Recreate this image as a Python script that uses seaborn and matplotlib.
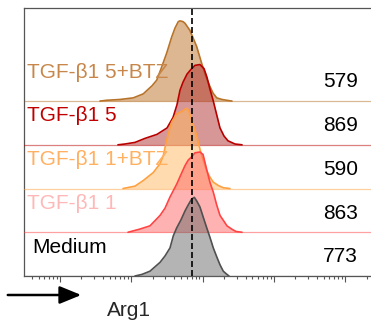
import numpy as np
import pandas as pd
import seaborn as sns
import matplotlib.pyplot as plt

# ---------------------------------------------------------------
# Data (x = log10 Arg1 intensity, y = % of mode)
# ---------------------------------------------------------------
samples = ["TGF-β1 5+BTZ", "TGF-β1 5", "TGF-β1 1+BTZ", "TGF-β1 1", "Medium"]
mfi = [579, 869, 590, 863, 773]

x_5btz = [1.561, 1.655, 1.842, 2.028, 2.168, 2.216, 2.290, 2.356, 2.416, 2.497, 2.567,
          2.613, 2.659, 2.683, 2.725, 2.753, 2.823, 2.865, 2.917, 2.987, 3.048, 3.104,
          3.146, 3.198, 3.272, 3.338, 3.412]
y_5btz = [0, 1, 2, 4, 9, 13, 19, 26, 40, 60, 80, 91, 99, 100, 99, 97, 88, 79, 68, 47,
          30, 18, 10, 4, 2, 1, 0]

x_5 = [1.813, 1.912, 2.052, 2.192, 2.360, 2.501, 2.585, 2.641, 2.683, 2.725, 2.781,
       2.837, 2.893, 2.963, 3.020, 3.062, 3.104, 3.146, 3.188, 3.244, 3.300, 3.356,
       3.454, 3.553]
y_5 = [0, 1, 3, 8, 13, 21, 34, 50, 68, 78, 88, 94, 99, 100, 95, 84, 69, 56, 41, 21,
       11, 5, 1, 0]

x_1btz = [1.884, 2.052, 2.168, 2.309, 2.403, 2.449, 2.497, 2.567, 2.637, 2.683, 2.729,
          2.753, 2.785, 2.809, 2.847, 2.917, 2.963, 3.006, 3.058, 3.104, 3.150, 3.216,
          3.290, 3.384]
y_1btz = [0, 3, 10, 20, 31, 41, 61, 83, 93, 95, 97, 99, 100, 96, 86, 66, 49, 36, 22,
          14, 8, 4, 1, 0]

x_1 = [1.954, 2.122, 2.262, 2.403, 2.473, 2.543, 2.637, 2.697, 2.753, 2.799, 2.847,
       2.893, 2.963, 3.006, 3.058, 3.104, 3.150, 3.198, 3.244, 3.290, 3.342, 3.408,
       3.468, 3.553]
y_1 = [0, 4, 8, 21, 30, 44, 60, 72, 83, 90, 94, 99, 100, 97, 78, 62, 50, 34, 21, 15,
       8, 4, 1, 0]

x_med = [2.052, 2.150, 2.262, 2.403, 2.473, 2.543, 2.589, 2.637, 2.697, 2.753, 2.795,
         2.847, 2.884, 2.921, 2.963, 3.010, 3.058, 3.104, 3.150, 3.198, 3.244, 3.290,
         3.328, 3.370]
y_med = [0, 2, 6, 17, 25, 35, 50, 60, 70, 81, 88, 96, 98, 93, 86, 73, 60, 48, 35, 24,
         14, 6, 3, 0]

curves_x = [x_5btz, x_5, x_1btz, x_1, x_med]
curves_y = [y_5btz, y_5, y_1btz, y_1, y_med]

ref_log = 2.851  # dashed reference line

# styles
line_colors = ["#b8732a", "#b80000", "#ffa040", "#ff4444", "#505050"]
fill_colors = ["#bb7126", "#b03030", "#ffb961", "#ff6767", "#6a6a6a"]
text_colors = ["#c8874a", "#c00000", "#ffb060", "#ffb8b8", "#000000"]
label_dx = [0.009, 0.009, 0.009, 0.009, 0.025]
OFFSET = 54.5

sns.set_style("ticks")
plt.rcParams["font.family"] = ["Liberation Sans", "DejaVu Sans"]

fig = plt.figure(figsize=(3.71, 3.22), dpi=100)
ax = fig.add_axes([24 / 371, 46 / 322, 347 / 371, 268 / 322])
ax.set_xscale("log")

n = len(samples)
for i, (name, xs, ys) in enumerate(zip(samples, curves_x, curves_y)):
    base = OFFSET * (n - 1 - i)
    df = pd.DataFrame({"x": 10 ** np.array(xs), "y": np.array(ys) + base})
    z = 2 + i
    ax.axhline(base, color=line_colors[i], lw=0.9, alpha=0.5, zorder=z)
    ax.fill_between(df["x"], base, df["y"], color=fill_colors[i], alpha=0.5,
                    lw=0, zorder=z)
    sns.lineplot(data=df, x="x", y="y", color=line_colors[i], lw=1.2,
                 sort=False, estimator=None, ax=ax, zorder=z)
    ax.text(label_dx[i], 0, name, transform=ax.get_yaxis_transform(),
            fontsize=15, color=text_colors[i], va="center", ha="left",
            zorder=10)
    ax.texts[-1].set_position((label_dx[i], base + 36))
    ax.text(0.963, base + 24, str(mfi[i]), transform=ax.get_yaxis_transform(),
            fontsize=15, color="black", va="center", ha="right", zorder=10)

ax.axvline(10 ** ref_log, color="black", lw=1.2, ls=(0, (3.6, 1.8)), zorder=20)

ax.set_xlim(10 ** 0.495, 10 ** 5.362)
ax.set_ylim(0, 334)
ax.set_xlabel("")
ax.set_ylabel("")
ax.set_yticks([])
ax.tick_params(axis="x", which="major", length=4, width=0.8, color="#555555",
               labelbottom=False)
ax.tick_params(axis="x", which="minor", length=2, width=0.8, color="#555555")
for side in ["left", "top", "bottom"]:
    ax.spines[side].set_color("#555555")
    ax.spines[side].set_linewidth(0.9)
ax.spines["right"].set_visible(False)

fig.text(129 / 371, 12 / 322, "Arg1", fontsize=15, ha="center", va="center")
fig.add_artist(plt.matplotlib.patches.FancyArrowPatch(
    (5 / 371, 27 / 322), (84 / 371, 27 / 322), transform=fig.transFigure,
    arrowstyle="-|>,head_length=1.1,head_width=0.45", mutation_scale=12,
    color="black", lw=1.8))

fig.savefig("out.png", dpi=100)
